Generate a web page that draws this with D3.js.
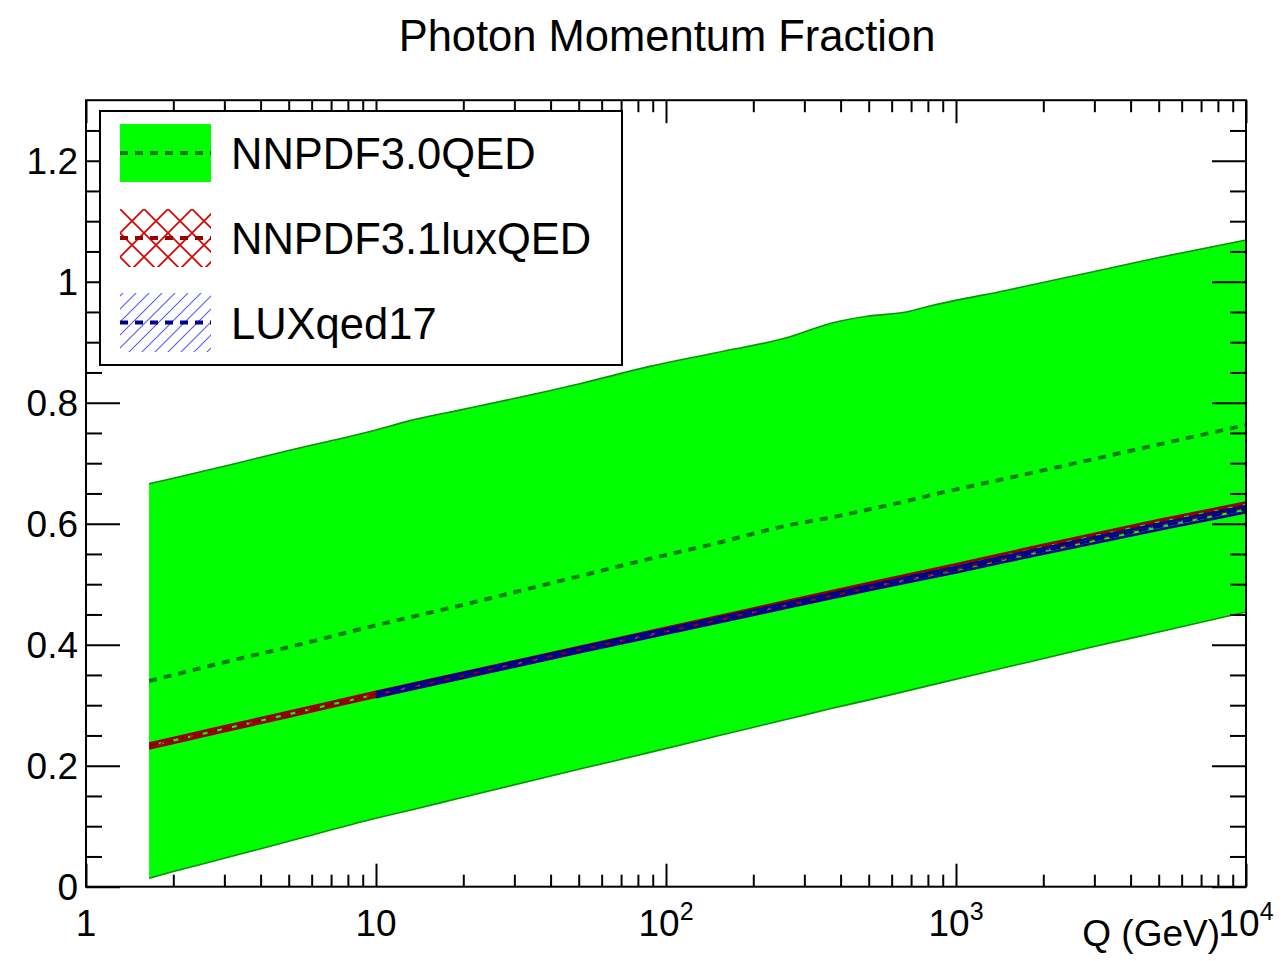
<!DOCTYPE html>
<html>
<head>
<meta charset="utf-8">
<script src="https://cdn.jsdelivr.net/npm/d3@7"></script>
<style>
  body { margin: 0; background: #fff; }
  svg { display: block; font-family: "Liberation Sans", Arial, Helvetica, sans-serif; }
</style>
</head>
<body>
<svg id="chart" width="1285" height="961"></svg>
<script>
// ---- data: photon momentum fraction vs Q ----
const qGrid          = [1.65, 2, 3, 5, 10, 13, 20, 50, 88, 150, 268, 368, 493, 656, 833, 1500, 3000, 5000, 10000];
const nnpdf30Lower   = [0.014, 0.025, 0.047, 0.075, 0.113, 0.126, 0.148, 0.194, 0.222, 0.249, 0.278, 0.294, 0.308, 0.322, 0.334, 0.363, 0.397, 0.421, 0.454];
const nnpdf30Central = [0.340, 0.350, 0.371, 0.396, 0.432, 0.445, 0.466, 0.513, 0.542, 0.568, 0.598, 0.610, 0.623, 0.636, 0.648, 0.675, 0.707, 0.731, 0.763];
const nnpdf30Upper   = [0.666, 0.675, 0.695, 0.721, 0.755, 0.770, 0.789, 0.831, 0.860, 0.883, 0.909, 0.931, 0.943, 0.949, 0.961, 0.986, 1.017, 1.040, 1.069];

const qLux31         = [1.65, 2, 3, 5, 10, 20, 50, 100, 200, 500, 1000, 2000, 5000, 10000];
const nnpdf31Central = [0.2325, 0.2417, 0.261, 0.285, 0.318, 0.350, 0.392, 0.424, 0.456, 0.498, 0.529, 0.561, 0.602, 0.631];
const nnpdf31Err     = [0.004, 0.004, 0.004, 0.004, 0.004, 0.004, 0.004, 0.004, 0.004, 0.004, 0.004, 0.004, 0.004, 0.004];

const qLuxqed        = [10, 20, 50, 100, 200, 500, 1000, 2000, 5000, 10000];
const luxqedCentral  = [0.317, 0.349, 0.391, 0.422, 0.453, 0.494, 0.524, 0.555, 0.595, 0.624];
const luxqedErr      = [0.004, 0.004, 0.004, 0.004, 0.004, 0.004, 0.0045, 0.0045, 0.005, 0.005];

const xMajor      = [1, 10, 100, 1000, 10000];
const xLabelMain  = ["1", "10", "10", "10", "10"];
const xLabelSup   = ["", "", "2", "3", "4"];
const yMajor      = [0, 0.2, 0.4, 0.6, 0.8, 1.0, 1.2];
const yLabels     = ["0", "0.2", "0.4", "0.6", "0.8", "1", "1.2"];
const legendNames = ["NNPDF3.0QED", "NNPDF3.1luxQED", "LUXqed17"];

// ---- layout ----
const L = 86, R = 1246, T = 100.2, B = 886.7;
const svg = d3.select("#chart");

const x = d3.scaleLog().domain([1, 1e4]).range([L, R]);
const y = d3.scaleLinear().domain([0, 1.3]).range([B, T]);

// ---- fill patterns ----
const defs = svg.append("defs");
const xh = defs.append("pattern").attr("id", "xhatch")
  .attr("patternUnits", "userSpaceOnUse").attr("width", 24).attr("height", 24)
  .attr("x", 120).attr("y", 209);
xh.append("path").attr("d", "M0,0L24,24M24,0L0,24")
  .attr("stroke", "#dd0000").attr("stroke-width", 1.7).attr("fill", "none");

const dh = defs.append("pattern").attr("id", "dhatch")
  .attr("patternUnits", "userSpaceOnUse").attr("width", 13).attr("height", 13);
dh.append("path").attr("d", "M-2,2L2,-2M0,13L13,0M11,15L15,11")
  .attr("stroke", "#5a5aff").attr("stroke-width", 1.1).attr("fill", "none");

defs.append("clipPath").attr("id", "plotclip")
  .append("rect").attr("x", L).attr("y", T).attr("width", R - L).attr("height", B - T);

const plot = svg.append("g").attr("clip-path", "url(#plotclip)");
const curve = d3.curveMonotoneX;

// ---- NNPDF3.0QED band ----
const g30 = qGrid.map((q, i) => ({ q, lo: nnpdf30Lower[i], c: nnpdf30Central[i], hi: nnpdf30Upper[i] }));
plot.append("path").datum(g30)
  .attr("d", d3.area().x(d => x(d.q)).y0(d => y(d.lo)).y1(d => y(d.hi)).curve(curve))
  .attr("fill", "#00ff00");
["lo", "hi"].forEach(k => {
  plot.append("path").datum(g30)
    .attr("d", d3.line().x(d => x(d.q)).y(d => y(d[k])).curve(curve))
    .attr("fill", "none").attr("stroke", "#109010").attr("stroke-width", 1.6);
});
plot.append("path").datum(g30)
  .attr("d", d3.line().x(d => x(d.q)).y(d => y(d.c)).curve(curve))
  .attr("fill", "none").attr("stroke", "#0a7a0a").attr("stroke-width", 4)
  .attr("stroke-dasharray", "8,7");

// ---- NNPDF3.1luxQED band ----
const g31 = qLux31.map((q, i) => ({ q, c: nnpdf31Central[i], e: nnpdf31Err[i] }));
plot.append("path").datum(g31)
  .attr("d", d3.area().x(d => x(d.q)).y0(d => y(d.c - d.e)).y1(d => y(d.c + d.e)).curve(curve))
  .attr("fill", "url(#xhatch)");
[-1, 1].forEach(s => {
  plot.append("path").datum(g31)
    .attr("d", d3.line().x(d => x(d.q)).y(d => y(d.c + s * d.e)).curve(curve))
    .attr("fill", "none").attr("stroke", "#9a0000").attr("stroke-width", 2.6);
});
plot.append("path").datum(g31)
  .attr("d", d3.line().x(d => x(d.q)).y(d => y(d.c)).curve(curve))
  .attr("fill", "none").attr("stroke", "#8b0000").attr("stroke-width", 3)
  .attr("stroke-dasharray", "10,5");

// ---- LUXqed17 band ----
const glx = qLuxqed.map((q, i) => ({ q, c: luxqedCentral[i], e: luxqedErr[i] }));
plot.append("path").datum(glx)
  .attr("d", d3.area().x(d => x(d.q)).y0(d => y(d.c - d.e)).y1(d => y(d.c + d.e)).curve(curve))
  .attr("fill", "url(#dhatch)");
[-1, 1].forEach(s => {
  plot.append("path").datum(glx)
    .attr("d", d3.line().x(d => x(d.q)).y(d => y(d.c + s * d.e)).curve(curve))
    .attr("fill", "none").attr("stroke", "#00008c").attr("stroke-width", 2.6);
});
plot.append("path").datum(glx)
  .attr("d", d3.line().x(d => x(d.q)).y(d => y(d.c)).curve(curve))
  .attr("fill", "none").attr("stroke", "#000088").attr("stroke-width", 3)
  .attr("stroke-dasharray", "10,5");

// ---- axes (ticks on all four sides) ----
const xMinor = [];
[1, 10, 100, 1000].forEach(d => { for (let k = 2; k <= 9; k++) xMinor.push(d * k); });
const yMinor = d3.range(1, 26).map(i => +(i * 0.05).toFixed(2))
  .filter(v => !yMajor.some(m => Math.abs(m - v) < 1e-9));

function tickGroup(gen, vals, size, tx, ty) {
  const g = svg.append("g").attr("transform", `translate(${tx},${ty})`)
    .call(gen.tickValues(vals).tickSize(size).tickSizeOuter(0).tickFormat(""));
  g.select(".domain").remove();
  g.selectAll("line").attr("stroke", "#000").attr("stroke-width", 2);
  g.selectAll("text").remove();
}
tickGroup(d3.axisBottom(x), xMajor, -23, 0, B);
tickGroup(d3.axisBottom(x), xMinor, -12, 0, B);
tickGroup(d3.axisTop(x), xMajor, -23, 0, T);
tickGroup(d3.axisTop(x), xMinor, -12, 0, T);
tickGroup(d3.axisLeft(y), yMajor, -34, L, 0);
tickGroup(d3.axisLeft(y), yMinor, -16, L, 0);
tickGroup(d3.axisRight(y), yMajor, -34, R, 0);
tickGroup(d3.axisRight(y), yMinor, -16, R, 0);

// frame
svg.append("rect").attr("x", L).attr("y", T).attr("width", R - L).attr("height", B - T)
  .attr("fill", "none").attr("stroke", "#000").attr("stroke-width", 2);

// x tick labels with exponents
xMajor.forEach((v, i) => {
  const t = svg.append("text").attr("x", x(v)).attr("y", 936)
    .attr("text-anchor", "middle").attr("font-size", 37).attr("fill", "#000");
  t.append("tspan").text(xLabelMain[i]);
  if (xLabelSup[i]) t.append("tspan").attr("dy", -16).attr("font-size", 25).text(xLabelSup[i]);
});

// y tick labels
yMajor.forEach((v, i) => {
  svg.append("text").attr("x", 78).attr("y", y(v) + 13)
    .attr("text-anchor", "end").attr("font-size", 37).attr("fill", "#000").text(yLabels[i]);
});

// axis title and chart title
svg.append("text").attr("x", 1220).attr("y", 946).attr("text-anchor", "end")
  .attr("font-size", 37).attr("fill", "#000").text("Q (GeV)");
svg.append("text").attr("x", 667).attr("y", 51).attr("text-anchor", "middle")
  .attr("font-size", 43.5).attr("fill", "#000").text("Photon Momentum Fraction");

// ---- legend ----
const lg = svg.append("g");
lg.append("rect").attr("x", 100).attr("y", 111).attr("width", 522).attr("height", 254)
  .attr("fill", "#fff").attr("stroke", "#000").attr("stroke-width", 2);

const entries = [
  { name: legendNames[0], fill: "#00ff00", line: "#0a7a0a", top: 124, bottom: 182 },
  { name: legendNames[1], fill: "url(#xhatch)", line: "#990000", top: 209, bottom: 267 },
  { name: legendNames[2], fill: "url(#dhatch)", line: "#000090", top: 293, bottom: 352 }
];
entries.forEach(e => {
  const mid = (e.top + e.bottom) / 2;
  lg.append("rect").attr("x", 120).attr("y", e.top).attr("width", 91).attr("height", e.bottom - e.top)
    .attr("fill", e.fill);
  lg.append("line").attr("x1", 120).attr("x2", 211).attr("y1", mid).attr("y2", mid)
    .attr("stroke", e.line).attr("stroke-width", 4).attr("stroke-dasharray", "8,7");
  lg.append("text").attr("x", 231).attr("y", mid + 16)
    .attr("font-size", 43.5).attr("fill", "#000").text(e.name);
});
</script>
</body>
</html>
